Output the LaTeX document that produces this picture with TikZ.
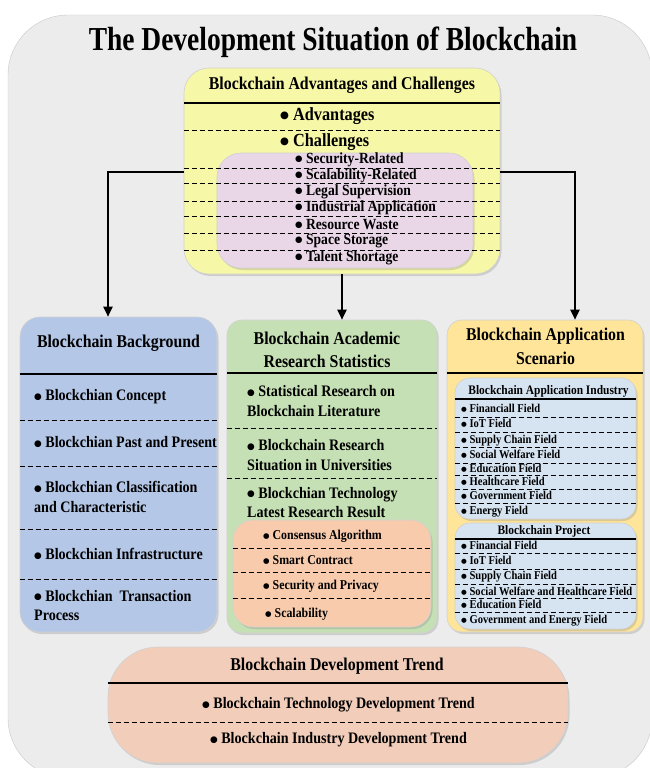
\documentclass[tikz,border=0pt]{standalone}
\usepackage{fontspec}
\setmainfont{Liberation Serif}[FakeStretch=0.88]
\newfontfamily\titlefont{Liberation Serif}[FakeStretch=0.82]
\newfontfamily\symf{DejaVu Sans}
\usetikzlibrary{arrows.meta,shadows}
\definecolor{bgc}{RGB}{236,236,236}
\definecolor{yelA}{RGB}{247,247,168}
\definecolor{pinkc}{RGB}{233,215,232}
\definecolor{bluec}{RGB}{180,199,231}
\definecolor{greenc}{RGB}{197,224,180}
\definecolor{orc}{RGB}{248,203,173}
\definecolor{appc}{RGB}{255,229,153}
\definecolor{ltb}{RGB}{214,228,242}
\definecolor{trc}{RGB}{242,205,186}
\newcommand\myhline[3]{\draw[#1] (#2.west |- 0,#3) -- (#2.east |- 0,#3);}
\newdimen\bulsz
\newcommand\bul{\bulsz=0.55\fontdimen6\font\raisebox{0.08em}{\symf\fontsize{\the\bulsz}{\the\bulsz}\selectfont ●}\ }
\begin{document}
\begin{tikzpicture}[x=1pt,y=-1pt,
  panel/.style={draw=black!18, line width=0.6pt, inner sep=0pt,
    drop shadow={opacity=0.28, shadow xshift=1.5pt, shadow yshift=-2pt}},
  ttl/.style={font=\titlefont\bfseries\fontsize{33.5}{38}\selectfont, inner sep=0pt},
  hd/.style={font=\bfseries\fontsize{18}{23.5}\selectfont, align=center, inner sep=0pt},
  big/.style={font=\bfseries\fontsize{18.5}{22}\selectfont, anchor=west, inner sep=0pt},
  it/.style={font=\bfseries\fontsize{16}{19.5}\selectfont, anchor=west, align=left, inner sep=0pt},
  itc/.style={font=\bfseries\fontsize{16}{19.5}\selectfont, inner sep=0pt},
  pk/.style={font=\bfseries\fontsize{15.5}{18}\selectfont, anchor=west, inner sep=0pt, text height=0.7em, text depth=0.1em},
  sm/.style={font=\bfseries\fontsize{13.5}{16}\selectfont, anchor=west, inner sep=0pt},
  shd/.style={font=\bfseries\fontsize{13}{15}\selectfont, inner sep=0pt},
  tiny/.style={font=\bfseries\fontsize{12}{14}\selectfont, anchor=west, inner sep=0pt, text height=0.7em, text depth=0.1em},
  sep/.style={line width=1.2pt},
  dsep/.style={line width=0.9pt, dash pattern=on 5pt off 3pt},
  arr/.style={line width=2pt, -{Triangle[width=9pt,length=10pt]}}]
\useasboundingbox (0,0) rectangle (650,768);
\begin{scope}
\clip (0,0) rectangle (650,768);
\node[draw=black!22, fill=bgc, rounded corners=60pt, minimum width=644pt, minimum height=763pt, inner sep=0pt] (back) at (330,396.5) {};
\end{scope}
\node[ttl] (title) at (333,42) {The Development Situation of Blockchain};

% ---- top box
\node[panel, fill=yelA, rounded corners=25pt, minimum width=316pt, minimum height=206pt] (adv) at (342,171) {};
\node[panel, fill=pinkc, rounded corners=24pt, minimum width=256pt, minimum height=115pt] (pink) at (345,210.5) {};
\node[hd] (advT) at (342,85) {Blockchain Advantages and Challenges};
\myhline{sep}{adv}{103}
\node[big] (adv1) at (280,116) {\bul Advantages};
\myhline{dsep}{adv}{130}
\node[big] (adv2) at (280,142) {\bul Challenges};
\foreach \yy in {168,183,201,216,233,250} {\myhline{dsep}{adv}{\yy}}
\node[pk] (c1) at (295,160) {\bul Security-Related};
\node[pk] (c2) at (295,176) {\bul Scalability-Related};
\node[pk] (c3) at (295,192) {\bul Legal Supervision};
\node[pk] (c4) at (295,208) {\bul Industrial Application};
\node[pk] (c5) at (295,226) {\bul Resource Waste};
\node[pk] (c6) at (295,241) {\bul Space Storage};
\node[pk] (c7) at (295,258) {\bul Talent Shortage};

% ---- background box
\node[panel, fill=bluec, rounded corners=20pt, minimum width=197pt, minimum height=315pt] (bg) at (118.5,474.5) {};
\node[hd] (bgT) at (118.5,343) {Blockchain Background};
\myhline{sep}{bg}{374}
\node[it] (b1) at (34,397) {\bul Blockchian Concept};
\myhline{dsep}{bg}{420}
\node[it] (b2) at (34,442) {\bul Blockchian Past and Present};
\myhline{dsep}{bg}{466}
\node[it] (b3) at (34,497) {\bul Blockchian Classification\\and Characteristic};
\myhline{dsep}{bg}{529}
\node[it] (b4) at (34,554) {\bul Blockchian Infrastructure};
\myhline{dsep}{bg}{579}
\node[it] (b5) at (34,605.5) {\bul Blockchian\ \ Transaction\\Process};

% ---- academic box
\node[panel, fill=greenc, rounded corners=15pt, minimum width=210pt, minimum height=313pt] (gr) at (332,476.5) {};
\node[hd] (grT) at (327,350) {Blockchain Academic\\Research Statistics};
\myhline{sep}{gr}{373}
\node[it] (g1) at (247,401) {\bul Statistical Research on\\Blockchain Literature};
\myhline{dsep}{gr}{428}
\node[it] (g2) at (247,455) {\bul Blockchain Research\\Situation in Universities};
\myhline{dsep}{gr}{478}
\node[it] (g3) at (247,502.5) {\bul Blockchian Technology\\Latest Research Result};
\node[panel, fill=orc, rounded corners=20pt, minimum width=198pt, minimum height=107pt] (res) at (332,573.5) {};
\node[sm] (r1) at (263,536) {\bul Consensus Algorithm};
\myhline{dsep}{res}{548}
\node[sm] (r2) at (263,560) {\bul Smart Contract};
\myhline{dsep}{res}{572}
\node[sm] (r3) at (263,586) {\bul Security and Privacy};
\myhline{dsep}{res}{598}
\node[sm] (r4) at (265,614) {\bul Scalability};

% ---- application box
\node[panel, fill=appc, rounded corners=15pt, minimum width=196pt, minimum height=312pt] (app) at (545,476) {};
\node[hd] (appT) at (545.5,346.5) {Blockchain Application\\Scenario};
\myhline{sep}{app}{373}
\node[panel, fill=ltb, rounded corners=15pt, minimum width=181pt, minimum height=141pt] (ind) at (545.5,448.5) {};
\node[shd] (indT) at (548.5,391) {Blockchain Application Industry};
\myhline{sep}{ind}{399}
\node[tiny] (i1) at (461,409) {\bul Financiall Field};
\node[tiny] (i2) at (461,424) {\bul IoT Field};
\node[tiny] (i3) at (461,440) {\bul Supply Chain Field};
\node[tiny] (i4) at (461,455) {\bul Social Welfare Field};
\node[tiny] (i5) at (461,469) {\bul Education Field};
\node[tiny] (i6) at (461,482) {\bul Healthcare Field};
\node[tiny] (i7) at (461,496) {\bul Government Field};
\node[tiny] (i8) at (461,511) {\bul Energy Field};
\foreach \yy in {417,432,447,463,475,489,503} {\myhline{dsep}{ind}{\yy}}
\node[panel, fill=ltb, rounded corners=15pt, minimum width=181pt, minimum height=106pt] (proj) at (545.5,576) {};
\node[shd] (projT) at (544,531) {Blockchain Project};
\myhline{sep}{proj}{539}
\node[tiny] (p1) at (461,546) {\bul Financial Field};
\node[tiny] (p2) at (461,561) {\bul IoT Field};
\node[tiny] (p3) at (461,576) {\bul Supply Chain Field};
\node[tiny] (p4) at (461,592) {\bul Social Welfare and Healthcare Field};
\node[tiny] (p5) at (461,605) {\bul Education Field};
\node[tiny] (p6) at (461,620) {\bul Government and Energy Field};
\foreach \yy in {553,569,584,598,612} {\myhline{dsep}{proj}{\yy}}

% ---- trend box
\node[panel, fill=trc, rounded corners=50pt, minimum width=460pt, minimum height=116pt] (tr) at (338,705) {};
\node[hd] (trT) at (337,666) {Blockchain Development Trend};
\myhline{sep}{tr}{683}
\node[itc] (t1) at (338.5,705) {\bul Blockchain Technology Development Trend};
\myhline{dsep}{tr}{722}
\node[itc] (t2) at (338.5,740) {\bul Blockchain Industry Development Trend};

% ---- connectors
\coordinate (lt) at (108,172);
\coordinate (rt) at (575,172);
\draw[arr] (adv.west |- lt) -- (lt) -- (lt |- bg.north);
\draw[arr] (adv.east |- rt) -- (rt) -- (rt |- app.north);
\draw[arr] (adv.south) -- (adv.south |- gr.north);
\end{tikzpicture}
\end{document}
